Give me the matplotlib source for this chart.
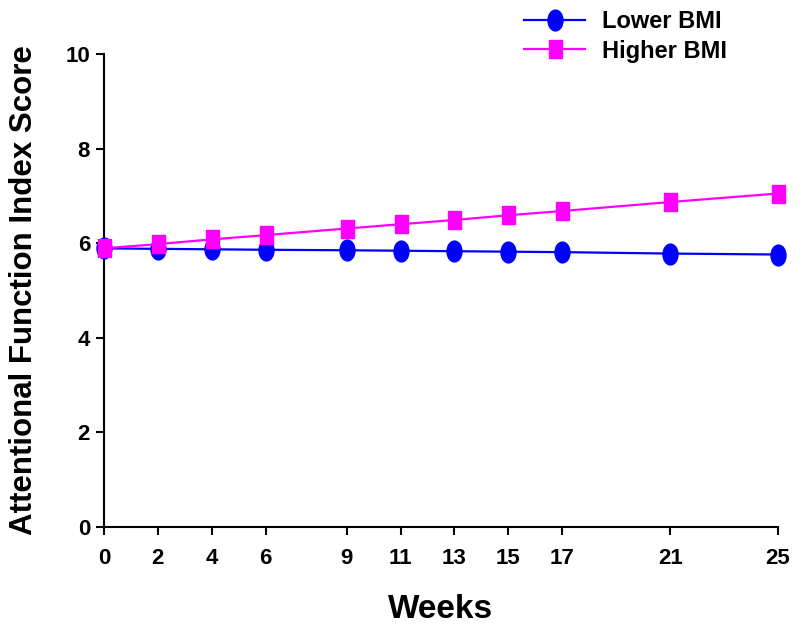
import matplotlib.pyplot as plt
from matplotlib.path import Path
from matplotlib.transforms import Affine2D

plt.rcParams['font.family'] = ['Liberation Sans', 'DejaVu Sans']
plt.rcParams['font.weight'] = 'bold'

weeks = [0, 2, 4, 6, 9, 11, 13, 15, 17, 21, 25]
lower_bmi = [5.89, 5.88, 5.87, 5.86, 5.85, 5.84, 5.83, 5.82, 5.81, 5.78, 5.76]
higher_bmi = [5.89, 5.98, 6.08, 6.17, 6.31, 6.40, 6.49, 6.59, 6.68, 6.87, 7.05]

# markers in the original look a bit taller than wide
oval = Affine2D().scale(0.72, 1.0).transform_path(Path.unit_circle())
box = Path([(-0.36, -0.5), (0.36, -0.5), (0.36, 0.5), (-0.36, 0.5), (-0.36, -0.5)],
           [Path.MOVETO, Path.LINETO, Path.LINETO, Path.LINETO, Path.CLOSEPOLY])

fig = plt.figure(figsize=(8, 6.28), dpi=100)
ax = fig.add_axes([0.13, 0.161, 0.8425, 0.753])

ax.plot(weeks, lower_bmi, color='#0000FF', marker=oval, markersize=15,
        linewidth=1.6, label='Lower BMI', clip_on=False, zorder=3)
ax.plot(weeks, higher_bmi, color='#FF00FF', marker=box, markersize=13,
        linewidth=1.6, label='Higher BMI', clip_on=False, zorder=4)

ax.set_xlim(0, 25)
ax.set_ylim(0, 10)
ax.set_xticks(weeks)
ax.set_yticks([0, 2, 4, 6, 8, 10])
ax.tick_params(axis='both', labelsize=16, width=1.5, length=6, direction='out')
ax.tick_params(axis='x', pad=9)
ax.tick_params(axis='y', pad=4)
for lbl in ax.get_xticklabels() + ax.get_yticklabels():
    lbl.set_fontweight('bold')

for s in ['top', 'right']:
    ax.spines[s].set_visible(False)
for s in ['left', 'bottom']:
    ax.spines[s].set_linewidth(1.5)

ax.set_xlabel('Weeks', fontsize=24, fontweight='bold', labelpad=18)
ax.set_ylabel('Attentional Function Index Score', fontsize=22.5, fontweight='bold', labelpad=19)

fig.legend(loc='upper right', bbox_to_anchor=(0.935, 1.018), frameon=False,
           handlelength=2.6, handletextpad=0.7, labelspacing=0.28,
           prop={'weight': 'bold', 'size': 17})

fig.savefig('out.png', dpi=100)
